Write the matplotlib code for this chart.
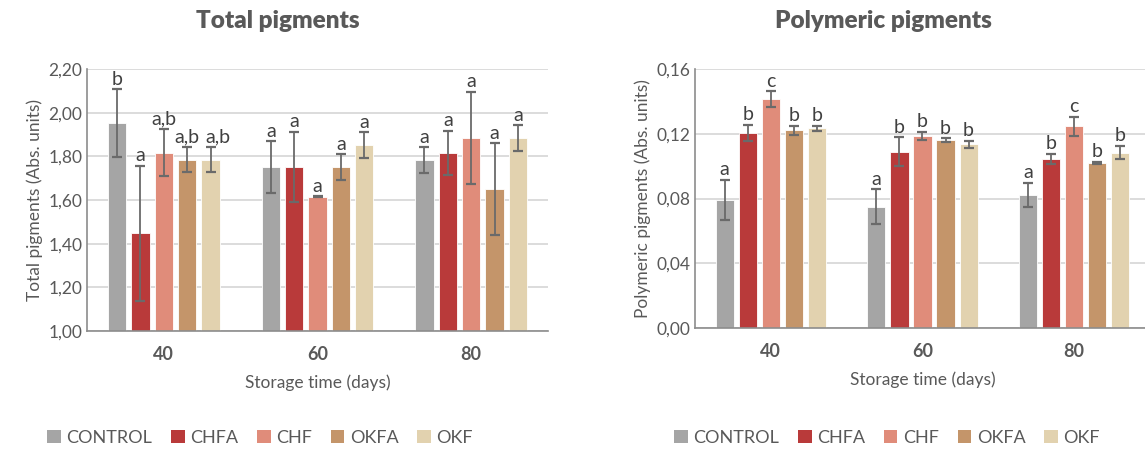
import matplotlib
matplotlib.use("Agg")
import matplotlib.pyplot as plt
from matplotlib.patches import Patch
import numpy as np

plt.rcParams['font.family'] = ['Lato', 'DejaVu Sans']

days = ['40', '60', '80']
treatments = ['CONTROL', 'CHFA', 'CHF', 'OKFA', 'OKF']
colors = ['#A5A5A5', '#B93A3A', '#E08C7A', '#C4956A', '#E2D2AF']

# Total pigments (rows = treatment, cols = day)
total_mean = [[1.952, 1.751, 1.783],
              [1.448, 1.751, 1.816],
              [1.816, 1.615, 1.884],
              [1.784, 1.751, 1.649],
              [1.784, 1.852, 1.884]]
total_err = [[0.155, 0.117, 0.058],
             [0.310, 0.160, 0.102],
             [0.107, 0.002, 0.210],
             [0.057, 0.058, 0.210],
             [0.057, 0.058, 0.058]]
total_letters = [['b', 'a', 'a'],
                 ['a', 'a', 'a'],
                 ['a,b', 'a', 'a'],
                 ['a,b', 'a', 'a'],
                 ['a,b', 'a', 'a']]

# Polymeric pigments
poly_mean = [[0.0792, 0.0749, 0.0821],
             [0.1206, 0.1089, 0.1045],
             [0.1415, 0.1186, 0.1246],
             [0.1221, 0.1161, 0.1021],
             [0.1233, 0.1136, 0.1083]]
poly_err = [[0.0125, 0.0107, 0.0076],
            [0.0050, 0.0090, 0.0032],
            [0.0047, 0.0025, 0.0057],
            [0.0027, 0.0010, 0.0005],
            [0.0015, 0.0022, 0.0042]]
poly_letters = [['a', 'a', 'a'],
                ['b', 'b', 'b'],
                ['c', 'b', 'c'],
                ['b', 'b', 'b'],
                ['b', 'b', 'b']]

txt = '#595959'
fig = plt.figure(figsize=(11.45, 4.5), dpi=100)


def draw(ax, means, errs, letters, ylim, yticks, fmt, ylabel, pad, nudge=None):
    nudge = nudge or {}
    x = np.arange(len(days))
    pitch, width = 0.152, 0.12
    for i, t in enumerate(treatments):
        xs = x + (i - 2) * pitch
        ax.bar(xs, np.array(means[i]) - ylim[0], width, bottom=ylim[0],
               color=colors[i], edgecolor='white', linewidth=0.6, zorder=2)
        ax.errorbar(xs, means[i], yerr=errs[i], fmt='none', ecolor='#6a6a6a',
                    elinewidth=1.3, capsize=3.5, capthick=1.6, zorder=3)
        for j in range(len(days)):
            ax.annotate(letters[i][j], (xs[j], means[i][j] + errs[i][j] + pad),
                        xytext=(nudge.get((i, j), 0), 0), textcoords='offset points',
                        ha='center', va='bottom', fontsize=14, color='#404040')
    ax.set_xlim(-0.5, 2.5)
    ax.set_ylim(*ylim)
    ax.set_yticks(yticks)
    ax.set_yticklabels([fmt.format(v).replace('.', ',') for v in yticks])
    ax.set_xticks(x)
    ax.set_xticklabels(days, fontweight='bold')
    ax.tick_params(axis='both', length=0, colors=txt, labelsize=12.5)
    ax.tick_params(axis='x', pad=11, labelsize=13)
    ax.grid(axis='y', color='#D9D9D9', linewidth=1.3, zorder=0)
    for s in ['top', 'right']:
        ax.spines[s].set_visible(False)
    for s in ['left', 'bottom']:
        ax.spines[s].set_color('#8c8c8c')
        ax.spines[s].set_linewidth(1.2)
    ax.set_ylabel(ylabel, fontsize=12.5, color=txt)
    ax.set_xlabel('Storage time (days)', fontsize=12.5, color=txt, labelpad=8)


ax1 = fig.add_axes([87 / 1145, 119 / 450, 461 / 1145, 262 / 450])
draw(ax1, total_mean, total_err, total_letters, (1.0, 2.2),
     np.arange(1.0, 2.21, 0.2), '{:.2f}', 'Total pigments (Abs. units)', 0.008,
     nudge={(4, 0): 5})

ax2 = fig.add_axes([695 / 1145, 122 / 450, 455 / 1145, 259 / 450])
draw(ax2, poly_mean, poly_err, poly_letters, (0.0, 0.16),
     np.arange(0.0, 0.161, 0.04), '{:.2f}', 'Polymeric pigments (Abs. units)', 0.001)

fig.text(278 / 1145, 1 - 21 / 450, 'Total pigments', ha='center', va='center',
         fontsize=17.5, fontweight='heavy', color=txt)
fig.text(883 / 1145, 1 - 21 / 450, 'Polymeric pigments', ha='center', va='center',
         fontsize=17.5, fontweight='heavy', color=txt)

handles = [Patch(facecolor=c, edgecolor='none') for c in colors]
for cx in (260 / 1145, 887 / 1145):
    fig.legend(handles, treatments, loc='center', bbox_to_anchor=(cx, 1 - 438 / 450),
               ncol=5, frameon=False, fontsize=13, handlelength=0.75,
               handleheight=0.75, handletextpad=0.3, columnspacing=1.05,
               labelcolor=txt)

fig.savefig('out.png', dpi=100)
